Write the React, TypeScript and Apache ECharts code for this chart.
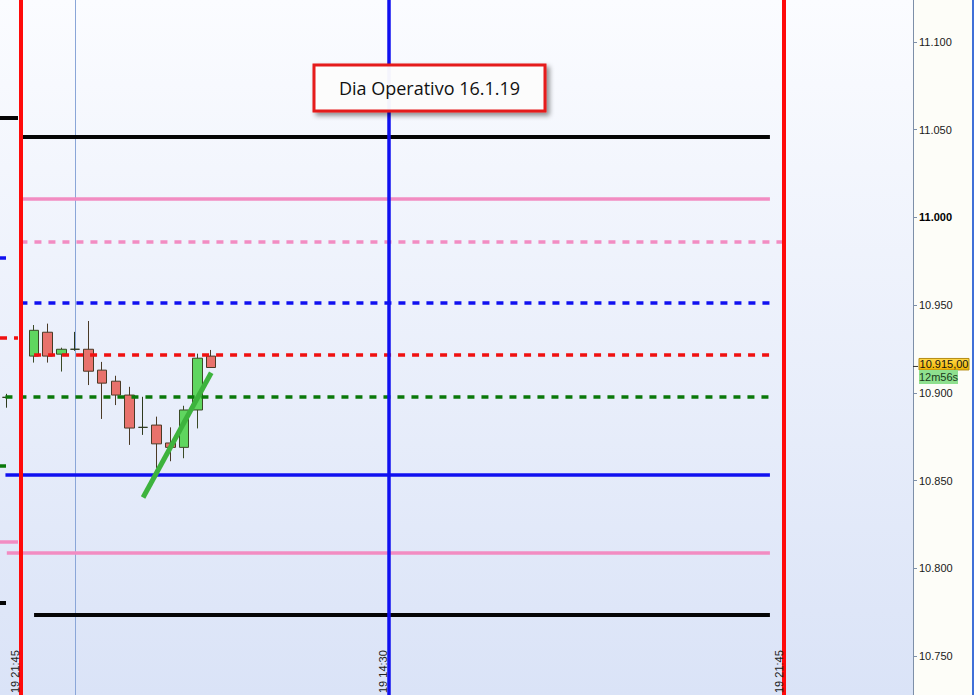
import React, { useEffect, useRef } from 'react';
import * as echarts from 'echarts';

// ---- data ----
const candleIndex = [0, 2, 3, 4, 5, 6, 7, 8, 9, 10, 11, 12, 13, 14, 15];
const opens = [10897.4, 10920.9, 10934.5, 10922.0, 10924.8, 10924.8, 10912.9, 10906.6, 10898.7, 10880.3, 10881.6, 10871.4, 10868.9, 10890.2, 10920.9];
const closes = [10897.4, 10935.6, 10920.9, 10924.8, 10924.8, 10912.3, 10905.5, 10898.7, 10879.9, 10880.3, 10870.9, 10868.9, 10890.2, 10919.7, 10914.4];
const lows = [10891.5, 10917.2, 10917.2, 10912.1, 10923.9, 10904.4, 10885.1, 10893.0, 10870.3, 10876.0, 10857.2, 10861.0, 10862.7, 10879.7, 10914.2];
const highs = [10899.4, 10938.6, 10939.4, 10925.7, 10934.7, 10940.9, 10917.6, 10909.7, 10903.4, 10897.7, 10886.4, 10880.3, 10892.6, 10922.3, 10924.4];

// horizontal levels: value, start index, end index
const levelValues = [11046.0, 11010.8, 10985.8, 10951.1, 10921.6, 10897.7, 10853.4, 10809.1, 10773.3];
const levelStart = [1, 1, 1, 1, 2, -0.1, -0.1, 0, 2];
const levelEnd = [56, 56, 57, 56, 56, 56, 56, 56, 56];
const levelKinds = ['black', 'pink', 'pinkDash', 'blueDash', 'redDash', 'greenDash', 'blue', 'pink', 'black'];

// previous-session stubs on the left edge
const stubValues = [11056.8, 10976.7, 10931.3, 10858.5, 10815.3, 10780.1];
const stubEnd = [0.82, -0.06, 0.82, -0.06, 0.82, -0.06];
const stubKinds = ['black', 'blue', 'redDash', 'greenDash', 'pink', 'black'];

// vertical session lines
const verticalIndex = [1, 28, 57];
const verticalKinds = ['red', 'blue', 'red'];
const verticalLabels = ['19 21:45', '19 14:30', '19 21:45'];
const thinLineIndex = 5;

// trend line
const trendX = [10, 15];
const trendY = [10840.3, 10911.4];

const currentPrice = 10915;
const currentPriceLabel = '10.915,00';
const timerLabel = '12m56s';
const titleText = 'Dia Operativo 16.1.19';

const Y_MIN = 10727.8;
const Y_MAX = 11123.8;

const styles: Record<string, any> = {
  black: { color: '#050505', width: 4, type: 'solid' },
  pink: { color: '#f28cc2', width: 3.5, type: 'solid' },
  pinkDash: { color: '#f28cc2', width: 3.5, type: [7, 7] },
  blueDash: { color: '#1010f0', width: 3.5, type: [7, 7] },
  redDash: { color: '#f01010', width: 3.5, type: [7, 7] },
  greenDash: { color: '#0a780a', width: 3.5, type: [7, 7] },
  blue: { color: '#1010f0', width: 3.5, type: 'solid' },
  red: { color: '#ff0a0a', width: 4, type: 'solid' },
};

const fmtPts = (v: number) => {
  const r = Math.round(v);
  return `${Math.floor(r / 1000)}.${String(r % 1000).padStart(3, '0')}`;
};

const AXIS_FONT = "'Liberation Sans', Arial, sans-serif";

export default function App() {
  const ref = useRef<HTMLDivElement>(null);
  useEffect(() => {
    if (!ref.current) return;
    const chart = echarts.init(ref.current, undefined, { renderer: 'svg' });

    const candleData = candleIndex.map((x, i) => [x, opens[i], closes[i], lows[i], highs[i]]);

    const levelLines = levelValues.map((v, i) => [
      { coord: [levelStart[i], v], lineStyle: { ...styles[levelKinds[i]], cap: 'butt' } },
      { coord: [levelEnd[i], v] },
    ]);
    const stubLines = stubValues.map((v, i) => [
      { coord: [-0.5, v], lineStyle: { ...styles[stubKinds[i]], cap: 'butt' } },
      { coord: [stubEnd[i], v] },
    ]);
    const verticalLines = verticalIndex.map((x, i) => ({
      xAxis: x,
      lineStyle: { ...styles[verticalKinds[i]] },
    }));

    const option: any = {
      animation: false,
      backgroundColor: '#fdfdf8',
      grid: {
        left: 0,
        right: 61,
        top: 0,
        bottom: 0,
        show: true,
        borderWidth: 0,
        backgroundColor: new echarts.graphic.LinearGradient(0, 0, 0, 1, [
          { offset: 0, color: '#fbfcff' },
          { offset: 1, color: '#dae3f7' },
        ]),
      },
      xAxis: {
        type: 'value',
        min: -0.5,
        max: 66.5,
        show: false,
      },
      yAxis: {
        type: 'value',
        position: 'right',
        min: Y_MIN,
        max: Y_MAX,
        splitNumber: 8,
        scale: true,
        splitLine: { show: false },
        axisLine: { show: true, onZero: false, lineStyle: { color: '#7d8fa8', width: 1 } },
        axisTick: { show: true, length: 4, lineStyle: { color: '#7d8fa8' } },
        axisLabel: {
          show: true,
          showMinLabel: false,
          showMaxLabel: false,
          margin: 6,
          color: '#1a1a1a',
          fontSize: 11,
          fontFamily: AXIS_FONT,
          formatter: (v: number) => (Math.round(v) === 11000 ? `{b|${fmtPts(v)}}` : fmtPts(v)),
          rich: {
            b: { fontWeight: 'bold', fontSize: 11, color: '#000', fontFamily: AXIS_FONT },
          },
        },
      },
      series: [
        {
          type: 'line',
          name: 'thin',
          data: [],
          z: 1,
          markLine: {
            silent: true,
            z: 1,
            symbol: ['none', 'none'],
            label: { show: false },
            data: [{ xAxis: thinLineIndex, lineStyle: { color: '#8aa6d8', width: 1, type: 'solid' } }],
          },
        },
        {
          type: 'candlestick',
          name: 'candles',
          data: candleData,
          encode: { x: 0, y: [1, 2, 3, 4] },
          barWidth: 10,
          z: 2,
          itemStyle: {
            color: '#5fd65f',
            color0: '#e8726c',
            borderColor: '#3a4a26',
            borderColor0: '#4a3a26',
            borderColorDoji: '#2e3a1e',
            borderWidth: 1,
          },
        },
        {
          type: 'line',
          name: 'levels',
          data: [],
          z: 5,
          markLine: {
            silent: true,
            z: 5,
            symbol: ['none', 'none'],
            label: { show: false },
            data: [...levelLines, ...stubLines],
          },
        },
        {
          type: 'line',
          name: 'sessions',
          data: [],
          z: 6,
          markLine: {
            silent: true,
            z: 6,
            symbol: ['none', 'none'],
            label: { show: false },
            data: verticalLines,
          },
        },
        {
          type: 'line',
          name: 'trend',
          data: trendX.map((x, i) => [x, trendY[i]]),
          symbol: 'none',
          z: 7,
          lineStyle: { color: '#3db33d', width: 5, cap: 'butt' },
        },
      ],
    };
    chart.setOption(option);

    const py = chart.convertToPixel({ yAxisIndex: 0 }, currentPrice) as number;
    const vx = verticalIndex.map((x) => chart.convertToPixel({ xAxisIndex: 0 }, x) as number);

    chart.setOption({
      graphic: [
        {
          type: 'rect',
          shape: { x: 972, y: 0, width: 2, height: 695 },
          style: { fill: '#3f70d8' },
          z: 50,
        },
        ...vx.map((x, i) => ({
          type: 'text',
          x: x - 5,
          y: 693,
          rotation: Math.PI / 2,
          z: 40,
          style: {
            text: verticalLabels[i],
            align: 'left',
            verticalAlign: 'middle',
            fontSize: 11,
            fontFamily: AXIS_FONT,
            fill: '#222',
          },
        })),
        {
          type: 'rect',
          shape: { x: 314, y: 65, width: 231, height: 46 },
          z: 60,
          style: {
            fill: 'rgba(255,255,255,0.94)',
            stroke: '#e51b1b',
            lineWidth: 3,
            shadowBlur: 5,
            shadowOffsetX: 3,
            shadowOffsetY: 3,
            shadowColor: 'rgba(0,0,0,0.45)',
          },
        },
        {
          type: 'text',
          x: 429.5,
          y: 88,
          z: 61,
          style: {
            text: titleText,
            align: 'center',
            verticalAlign: 'middle',
            fontSize: 18,
            fontFamily: "'Open Sans', 'Noto Sans', sans-serif",
            fill: '#111',
          },
        },
        {
          type: 'line',
          shape: { x1: 913, y1: py, x2: 918, y2: py },
          style: { stroke: '#333', lineWidth: 1 },
          z: 61,
        },
        {
          type: 'rect',
          shape: { x: 919, y: py - 8, width: 50, height: 11.5 },
          z: 62,
          style: {
            fill: new echarts.graphic.LinearGradient(0, 0, 0, 1, [
              { offset: 0, color: '#ffd84a' },
              { offset: 1, color: '#f0b400' },
            ]),
            stroke: '#b48c14',
            lineWidth: 1,
          },
        },
        {
          type: 'text',
          x: 944,
          y: py - 2,
          z: 63,
          style: {
            text: currentPriceLabel,
            align: 'center',
            verticalAlign: 'middle',
            fontSize: 11,
            fontFamily: AXIS_FONT,
            fill: '#111',
          },
        },
        {
          type: 'rect',
          shape: { x: 919, y: py + 3.5, width: 39, height: 14 },
          z: 62,
          style: { fill: '#8fe08f' },
        },
        {
          type: 'text',
          x: 938.5,
          y: py + 10.5,
          z: 63,
          style: {
            text: timerLabel,
            align: 'center',
            verticalAlign: 'middle',
            fontSize: 11,
            fontFamily: AXIS_FONT,
            fill: '#1a3a1a',
          },
        },
      ],
    });

    return () => {
      chart.dispose();
    };
  }, []);

  return (
    <div
      ref={ref}
      style={{ position: 'fixed', left: 0, top: 0, width: 974, height: 695 }}
    />
  );
}
